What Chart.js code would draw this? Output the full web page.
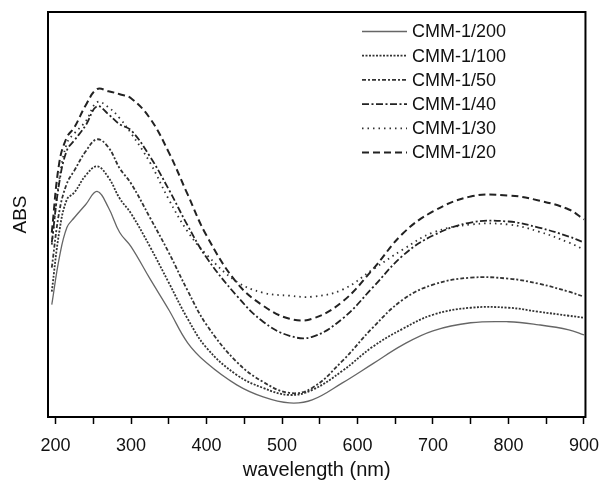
<!DOCTYPE html>
<html>
<head>
<meta charset="utf-8">
<script src="https://cdn.jsdelivr.net/npm/chart.js@4.4.1/dist/chart.umd.min.js"></script>
<style>
  html, body { margin: 0; padding: 0; background: #fff; }
  #wrap { width: 610px; height: 483px; }
</style>
</head>
<body>
<div id="wrap"><canvas id="chart" width="610" height="483"></canvas></div>
<script>
// wavelength grid (nm) shared by all series
const wavelengths = [195, 205, 215, 225, 240, 255, 270, 285, 300, 325, 350, 375, 400, 440, 475, 510, 540, 580, 620, 660, 700, 750, 800, 840, 880, 900]

// absorbance, arbitrary units
const cmm200 = [1.12, 1.59, 1.89, 1.99, 2.12, 2.25, 2.09, 1.84, 1.70, 1.38, 1.07, 0.74, 0.54, 0.32, 0.20, 0.14, 0.17, 0.34, 0.53, 0.72, 0.86, 0.94, 0.95, 0.92, 0.87, 0.82]
const cmm100 = [1.25, 1.85, 2.17, 2.24, 2.41, 2.50, 2.39, 2.18, 2.03, 1.70, 1.34, 0.98, 0.69, 0.42, 0.29, 0.22, 0.27, 0.46, 0.70, 0.88, 1.02, 1.09, 1.09, 1.05, 1.01, 0.99]
const cmm50 = [1.49, 2.05, 2.33, 2.46, 2.65, 2.77, 2.69, 2.48, 2.33, 1.99, 1.64, 1.26, 0.92, 0.55, 0.35, 0.24, 0.29, 0.56, 0.89, 1.17, 1.32, 1.39, 1.38, 1.33, 1.25, 1.20]
const cmm40 = [1.74, 2.34, 2.66, 2.76, 2.91, 3.10, 3.02, 2.92, 2.86, 2.60, 2.27, 1.91, 1.59, 1.21, 0.95, 0.81, 0.80, 0.98, 1.29, 1.61, 1.81, 1.94, 1.95, 1.89, 1.80, 1.74]
const cmm30 = [1.72, 2.37, 2.73, 2.83, 2.95, 3.14, 3.09, 2.98, 2.83, 2.54, 2.17, 1.85, 1.62, 1.35, 1.24, 1.21, 1.20, 1.27, 1.47, 1.67, 1.84, 1.92, 1.92, 1.85, 1.74, 1.67]
const cmm20 = [1.84, 2.54, 2.79, 2.89, 3.11, 3.27, 3.25, 3.22, 3.18, 2.98, 2.64, 2.22, 1.81, 1.34, 1.11, 0.98, 0.98, 1.15, 1.47, 1.83, 2.05, 2.20, 2.21, 2.16, 2.07, 1.97]

const seriesLabels = ['CMM-1/200', 'CMM-1/100', 'CMM-1/50', 'CMM-1/40', 'CMM-1/30', 'CMM-1/20']
const seriesValues = [cmm200, cmm100, cmm50, cmm40, cmm30, cmm20]

const xTicks = [200, 250, 300, 350, 400, 450, 500, 550, 600, 650, 700, 750, 800, 850, 900]

const FONT = 'Arial, "Liberation Sans", Helvetica, sans-serif'

const styles = [
  { color: '#666', width: 1.3, dash: [] },
  { color: '#333', width: 1.8, dash: [2, 1.5] },
  { color: '#333', width: 1.8, dash: [4, 2, 2, 2] },
  { color: '#222', width: 1.8, dash: [7, 2.5, 2, 2.5] },
  { color: '#333', width: 1.8, dash: [1.5, 4] },
  { color: '#222', width: 2, dash: [7, 4] },
]

const datasets = seriesLabels.map((label, i) => ({
  label: label,
  data: wavelengths.map((w, j) => ({ x: w, y: seriesValues[i][j] })),
  borderColor: styles[i].color,
  borderWidth: styles[i].width,
  borderDash: styles[i].dash,
  pointRadius: 0,
  fill: false,
  tension: 0.4,
}))

// box round the plot and the legend inside it
const framePlugin = {
  id: 'frame',
  afterDatasetsDraw(chart) {
    const { ctx, chartArea } = chart
    ctx.save()
    ctx.strokeStyle = '#000'
    ctx.lineWidth = 2
    ctx.strokeRect(chartArea.left, chartArea.top, chartArea.right - chartArea.left, chartArea.bottom - chartArea.top)

    ctx.font = '18px ' + FONT
    ctx.textBaseline = 'middle'
    ctx.fillStyle = '#111'
    chart.data.datasets.forEach((ds, i) => {
      const y = 31.5 + i * 24.2
      ctx.beginPath()
      ctx.setLineDash(ds.borderDash)
      ctx.strokeStyle = ds.borderColor
      ctx.lineWidth = ds.borderWidth
      ctx.moveTo(362, y)
      ctx.lineTo(407, y)
      ctx.stroke()
      ctx.setLineDash([])
      ctx.fillText(ds.label, 412, y + 1)
    })
    ctx.restore()
  }
}

new Chart(document.getElementById('chart'), {
  type: 'line',
  data: { datasets: datasets },
  options: {
    responsive: false,
    animation: false,
    layout: { padding: { top: 12, right: 10, left: 0, bottom: 0 } },
    plugins: {
      legend: { display: false },
      tooltip: { enabled: false },
    },
    scales: {
      x: {
        type: 'linear',
        min: 190,
        max: 902,
        afterBuildTicks: scale => { scale.ticks = xTicks.map(v => ({ value: v })) },
        afterFit: scale => { scale.height = 66 },
        border: { display: false },
        grid: { drawOnChartArea: false, drawTicks: true, tickLength: 7, tickColor: '#000', tickWidth: 1.5 },
        ticks: {
          autoSkip: false,
          maxRotation: 0,
          padding: 11,
          color: '#111',
          font: { family: FONT, size: 18 },
          callback: v => (v % 100 === 0 ? String(v) : ''),
        },
        title: {
          display: true,
          text: 'wavelength (nm)',
          color: '#111',
          font: { family: FONT, size: 20 },
          padding: { top: 0, bottom: 1 },
        },
      },
      y: {
        min: 0,
        max: 4.04,
        afterFit: scale => { scale.width = 48 },
        border: { display: false },
        grid: { display: false },
        ticks: { display: false },
        title: {
          display: true,
          text: 'ABS',
          color: '#111',
          font: { family: FONT, size: 19 },
          padding: { top: 9, bottom: 0 },
        },
      },
    },
  },
  plugins: [framePlugin],
})
</script>
</body>
</html>
